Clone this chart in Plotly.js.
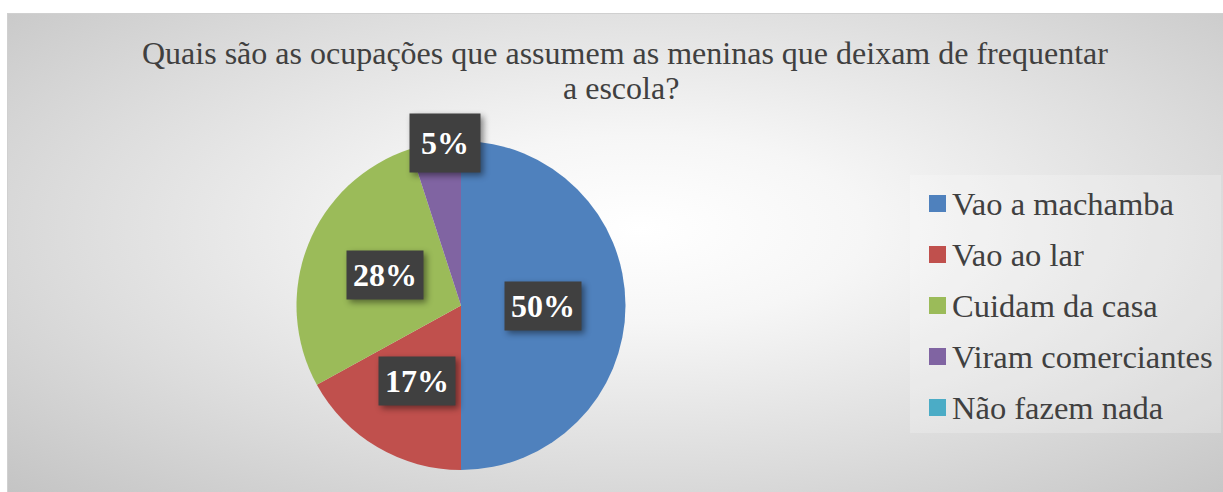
<!DOCTYPE html>
<html>
<head>
<meta charset="utf-8">
<script src="https://cdn.plot.ly/plotly-3.0.1.min.js"></script>
<style>
  html, body { margin: 0; padding: 0; background: #ffffff; }
  #wrap { position: relative; width: 1223px; height: 492px; overflow: hidden; background: #ffffff; }
  #bg { position: absolute; left: 7px; top: 13px; width: 1216px; height: 479px;
        background: radial-gradient(ellipse farthest-corner at 52% 45%, #ffffff 0%, #f6f6f6 25%, #dcdcdc 65%, #c4c4c4 100%);
        box-sizing: border-box; border-top: 1px solid #d0d0d0; border-left: 1px solid #d0d0d0; }
  #chart { position: absolute; left: 0; top: 0; width: 1223px; height: 492px; }
  #chart g.annotation rect.bg { filter: drop-shadow(3px 3px 3px rgba(0,0,0,0.45)); }
</style>
</head>
<body>
<div id="wrap"><div id="bg"></div><div id="chart"></div></div>
<script>
// ---- data ----
const categories = ["Vao a machamba", "Vao ao lar", "Cuidam da casa", "Viram comerciantes", "Não fazem nada"];
const values = [50, 17, 28, 5, 0];
const colors = ["#4f81bd", "#c0504d", "#9bbb59", "#8064a2", "#4bacc6"];
const titleLines = ["Quais são as ocupações que assumem as meninas que deixam de frequentar", "a escola?"];

// ---- layout config (positions / styles) ----
const FONT = "Liberation Serif";
const W = 1223, H = 492;
const pieCx = 461, pieCy = 305.5, pieR = 164.5;     // pixels
const labelRadiusFrac = [0.5, 0.53, 0.5, 1.0, 0.5];  // label distance from centre (fraction of radius)
const labelNudgeX = [0, 0, 0, 10, 0];
const labelPad = [6, 6, 6, 11, 6];
const legendX = 929, legendY0 = 203.5, legendStep = 51, swatch = 17;
const titleX = [625, 621], titleMidY = [53, 88];

const domX = [(pieCx - pieR) / W, (pieCx + pieR) / W];
const domY = [1 - (pieCy + pieR) / H, 1 - (pieCy - pieR) / H];

const total = values.reduce((a, b) => a + b, 0);
const annotations = [];
const shapes = [];

// data labels (dark boxes), positioned from the data's slice angles
let cum = 0;
values.forEach((v, i) => {
  const mid = 2 * Math.PI * (cum + v / 2) / total;
  cum += v;
  if (v === 0) return;
  const r = pieR * labelRadiusFrac[i];
  const px = pieCx + r * Math.sin(mid) + labelNudgeX[i];
  const py = pieCy - r * Math.cos(mid);
  annotations.push({
    xref: "paper", yref: "paper", x: px / W, y: 1 - py / H,
    xanchor: "center", yanchor: "middle", showarrow: false,
    text: "<b>" + Math.round(100 * v / total) + "%</b>",
    font: { family: FONT, size: 32, color: "#ffffff" },
    bgcolor: "#404040", borderpad: labelPad[i]
  });
});

// custom legend
shapes.push({ type: "rect", xref: "paper", yref: "paper",
  x0: 910 / W, x1: 1221 / W, y0: 1 - 433 / H, y1: 1 - 175 / H,
  fillcolor: "rgba(255,255,255,0.22)", line: { width: 0 }, layer: "below" });
categories.forEach((c, i) => {
  const cy = legendY0 + i * legendStep;
  shapes.push({ type: "rect", xref: "paper", yref: "paper",
    x0: legendX / W, x1: (legendX + swatch) / W,
    y0: 1 - (cy + swatch / 2) / H, y1: 1 - (cy - swatch / 2) / H,
    fillcolor: colors[i], line: { width: 0 } });
  annotations.push({ xref: "paper", yref: "paper", x: (legendX + swatch + 4) / W, y: 1 - (cy + 0.5) / H,
    xanchor: "left", yanchor: "middle", showarrow: false, text: c,
    font: { family: FONT, size: 32.5, color: "#404040" } });
});

// title (two lines, Excel-like tight line spacing)
titleLines.forEach((t, i) => {
  annotations.push({ xref: "paper", yref: "paper", x: titleX[i] / W, y: 1 - titleMidY[i] / H,
    xanchor: "center", yanchor: "middle", showarrow: false, text: t,
    font: { family: FONT, size: 32, color: "#404040" } });
});

const trace = {
  type: "pie",
  labels: categories,
  values: values,
  marker: { colors: colors, line: { width: 0 } },
  sort: false,
  direction: "clockwise",
  rotation: 0,
  textinfo: "none",
  hoverinfo: "label+percent",
  showlegend: false,
  domain: { x: domX, y: domY }
};

const layout = {
  width: W, height: H,
  margin: { l: 0, r: 0, t: 0, b: 0 },
  paper_bgcolor: "rgba(0,0,0,0)",
  plot_bgcolor: "rgba(0,0,0,0)",
  showlegend: false,
  annotations: annotations,
  shapes: shapes
};

Plotly.newPlot("chart", [trace], layout, { displayModeBar: false, staticPlot: true });
</script>
</body>
</html>
